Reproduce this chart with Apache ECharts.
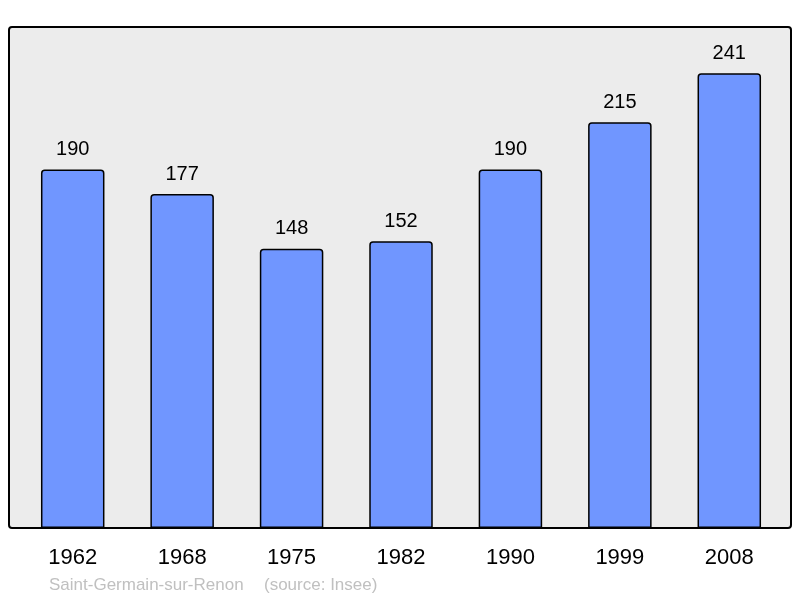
<!DOCTYPE html>
<html>
<head>
<meta charset="utf-8">
<script src="https://cdn.jsdelivr.net/npm/echarts@6/dist/echarts.min.js"></script>
<style>
  html, body { margin: 0; padding: 0; background: #fff; }
  #chart { width: 800px; height: 598px; }
</style>
</head>
<body>
<div id="chart"></div>
<script>
const years = ["1962", "1968", "1975", "1982", "1990", "1999", "2008"];
const population = [190, 177, 148, 152, 190, 215, 241];

const chart = echarts.init(document.getElementById("chart"), null, { renderer: "canvas" });

const option = {
    animation: false,
    textStyle: { fontFamily: "Liberation Sans, Arial, sans-serif" },
    graphic: [
        {
            type: "rect",
            z: -10,
            shape: { x: 9, y: 27, width: 782, height: 501, r: 3 },
            style: { fill: "#ececec", stroke: "#000", lineWidth: 2 },
        },
        {
            type: "text",
            left: 49,
            top: 577,
            style: {
                text: "Saint-Germain-sur-Renon",
                fill: "#c0c0c0",
                font: "17px Liberation Sans, Arial, sans-serif",
            },
        },
        {
            type: "text",
            left: 264,
            top: 577,
            style: {
                text: "(source: Insee)",
                fill: "#c0c0c0",
                font: "17px Liberation Sans, Arial, sans-serif",
            },
        },
    ],
    grid: { left: 18, right: 16, top: 28, bottom: 70 },
    xAxis: {
        type: "category",
        data: years,
        axisLine: { show: false },
        axisTick: { show: false },
        axisLabel: { color: "#000", fontSize: 22, margin: 19 },
    },
    yAxis: {
        type: "value",
        min: 0,
        max: 265,
        show: false,
        splitLine: { show: false },
    },
    series: [
        {
            type: "bar",
            data: population,
            barWidth: 63.5,
            itemStyle: {
                color: "#7096ff",
                borderColor: "#000",
                borderWidth: 1.5,
                borderRadius: [3, 3, 0, 0],
            },
            label: {
                show: true,
                position: "top",
                distance: 10,
                color: "#000",
                fontSize: 20,
            },
        },
    ],
};

chart.setOption(option);
</script>
</body>
</html>
